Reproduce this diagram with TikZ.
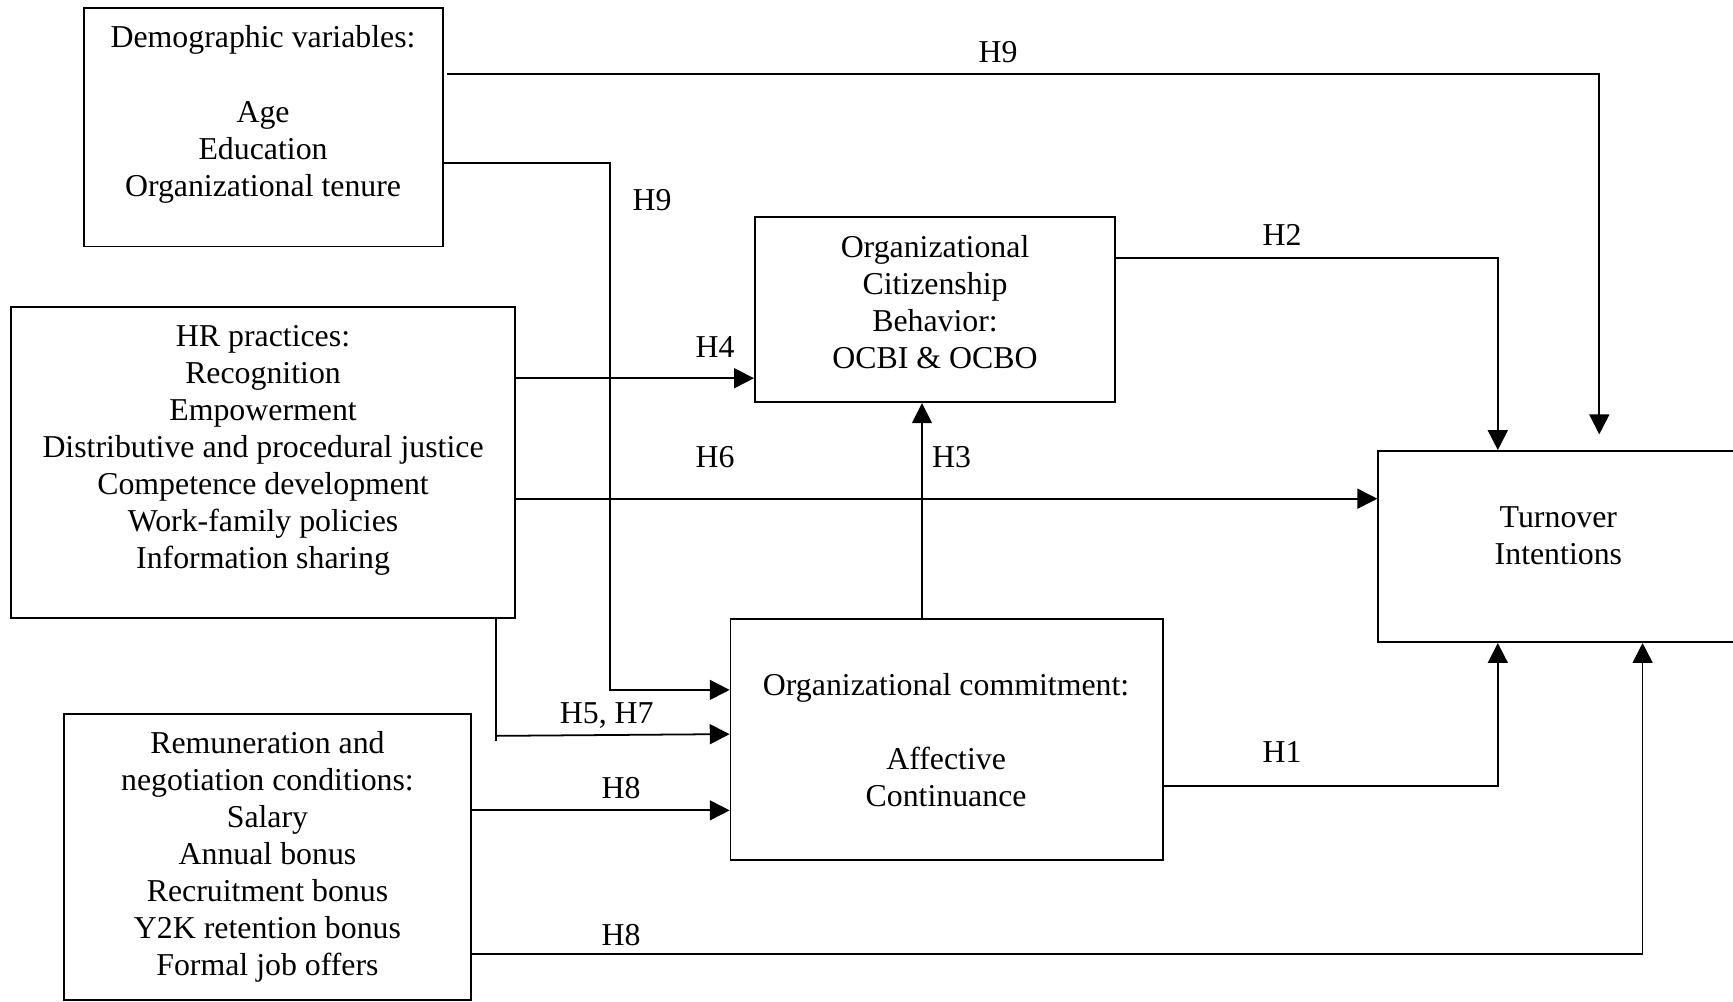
\documentclass[tikz,border=0pt]{standalone}
\usepackage{fontspec}
\setmainfont{Liberation Serif}
\usetikzlibrary{arrows.meta,calc}
\tikzset{
  box/.style={draw,line width=0.8pt,inner sep=0pt},
  txt/.style={align=center,inner sep=0pt,font=\fontsize{14.4}{16.75}\selectfont},
  lbl/.style={inner sep=0pt,font=\fontsize{14.4}{16.75}\selectfont},
  conn/.style={line width=0.8pt},
  arr/.style={line width=0.8pt,-{Triangle[length=9pt,width=9pt]}}
}
\begin{document}
\begin{tikzpicture}[x=0.5pt,y=-0.5pt]
\useasboundingbox (0,0) rectangle (1568,906);
% boxes
\node[box,minimum width=162.5pt,minimum height=108pt] (demo) at (238.5,115) {};
\node[box,minimum width=228pt,minimum height=140.5pt] (hr) at (238,418.5) {};
\node[box,minimum width=184pt,minimum height=129.5pt] (rem) at (242,775.5) {};
\node[box,minimum width=163pt,minimum height=84pt] (ocb) at (846,280) {};
\node[box,minimum width=195.5pt,minimum height=109pt] (oc) at (856.5,669) {};
\node[box,minimum width=163pt,minimum height=86.5pt] (ti) at (1410,494.5) {};
% texts
\node[txt] (demotxt) at (238,103.5) {Demographic variables:\\[16.75pt]Age\\Education\\Organizational tenure};
\node[txt] (hrtxt) at (238,407.5) {HR practices:\\Recognition\\Empowerment\\Distributive and procedural justice\\Competence development\\Work-family policies\\Information sharing};
\node[txt] (remtxt) at (242,775.5) {Remuneration and\\negotiation conditions:\\Salary\\Annual bonus\\Recruitment bonus\\Y2K retention bonus\\Formal job offers};
\node[txt] (ocbtxt) at (846,273) {Organizational\\Citizenship\\Behavior:\\OCBI \& OCBO};
\node[txt] (octxt) at (856,670) {Organizational commitment:\\[16.75pt]Affective\\Continuance};
\node[txt] (titxt) at (1410,484.5) {Turnover\\Intentions};
% free end
\coordinate (h9end) at (1447,393);
% connectors
\draw[arr] ($(demo.north east)+(3,61)$) -| (h9end);
\draw[arr] ($(demo.north east)+(0,141)$) -| ($(oc.north west)+(-108,65)$) -- ($(oc.north west)+(0,65)$);
\draw[arr] ($(hr.north east)+(0,65)$) -- ($(ocb.north west)+(0,147)$);
\draw[arr] ($(hr.north east)+(0,174)$) -- ($(ti.north west)+(0,44)$);
\draw[arr] ($(ocb.north east)+(0,38)$) -| ($(ti.north west)+(109,0)$);
\draw[arr] ($(oc.north west)+(174,0)$) -- ($(ocb.south west)+(152,0)$);
\draw[conn] ($(hr.south east)+(-18,0)$) -- ++(0,111);
\draw[arr] ($(hr.south east)+(-18,106)$) -- ($(oc.north west)+(0,105)$);
\draw[arr] ($(rem.north east)+(-2,88)$) -- ($(oc.north west)+(0,174)$);
\draw[arr] ($(rem.north east)+(-2,218)$) -| ($(ti.south west)+(240,0)$);
\draw[arr] ($(oc.north east)+(0,152)$) -| ($(ti.south west)+(109,0)$);
% labels
\node[lbl] (l9a) at (903,47) {H9};
\node[lbl] (l9b) at (590,181) {H9};
\node[lbl] (l2) at (1160,213) {H2};
\node[lbl] (l4) at (647,314) {H4};
\node[lbl] (l6) at (647,414) {H6};
\node[lbl] (l3) at (861,414) {H3};
\node[lbl] (l57) at (549,647) {H5, H7};
\node[lbl] (l8a) at (562,713) {H8};
\node[lbl] (l1) at (1160,680) {H1};
\node[lbl] (l8b) at (562,846) {H8};
\end{tikzpicture}
\end{document}
